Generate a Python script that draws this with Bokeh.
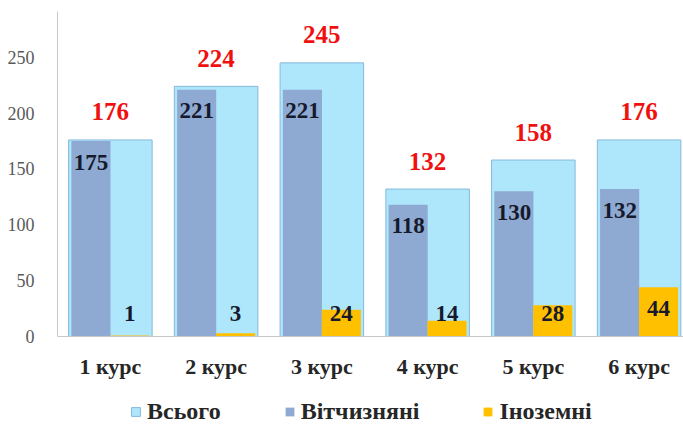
import numpy as np
from bokeh.plotting import figure
from bokeh.layouts import column
from bokeh.models import Range1d, FixedTicker, Legend, LegendItem, ColumnDataSource
from bokeh.core.properties import value
from bokeh.embed import file_html
from bokeh.resources import INLINE

courses = ["1 курс", "2 курс", "3 курс", "4 курс", "5 курс", "6 курс"]
total = [176, 224, 245, 132, 158, 176]
domestic = [175, 221, 221, 118, 130, 132]
foreign = [1, 3, 24, 14, 28, 44]
y_ticks = [0, 50, 100, 150, 200, 250]
series = ["Всього", "Вітчизняні", "Іноземні"]

FONT = "'Liberation Serif', 'DejaVu Serif', serif"
C_TOTAL, C_TOTAL_LINE, C_DOM, C_FOR = "#aee7fb", "#86b9dc", "#8eaad2", "#ffc000"
x = np.arange(len(courses))

src = ColumnDataSource(dict(
    x=x,
    xd=x - 0.184,
    xf=x + 0.184,
    total=total,
    domestic=domestic,
    foreign=foreign,
    ft=np.maximum(np.array(foreign), 39),
    total_lbl=[str(v) for v in total],
    dom_lbl=[str(v) for v in domestic],
    for_lbl=[str(v) for v in foreign],
))

p = figure(width=683, height=386, x_range=Range1d(-0.5, 5.42), y_range=Range1d(0, 291),
           output_backend="svg", toolbar_location=None,
           min_border_left=57, min_border_right=0, min_border_top=11, min_border_bottom=50)

p.vbar(x="x", top="total", width=0.79, source=src,
       fill_color=C_TOTAL, line_color=C_TOTAL_LINE, line_width=1)
p.vbar(x="xd", top="domestic", width=0.37, source=src, fill_color=C_DOM, line_color=None)
p.vbar(x="xf", top="foreign", width=0.37, source=src, fill_color=C_FOR, line_color=None)

p.text(x="x", y="total", text="total_lbl", source=src, text_align="center",
       text_baseline="middle", y_offset=-28, text_color="#f01010",
       text_font=value(FONT), text_font_style="bold", text_font_size="25px")
p.text(x="xd", y="domestic", text="dom_lbl", source=src, text_align="center",
       text_baseline="middle", y_offset=21, text_color="#161a2c",
       text_font=value(FONT), text_font_style="bold", text_font_size="23px")
p.text(x="xf", y="ft", text="for_lbl", source=src, text_align="center",
       text_baseline="middle", y_offset=21, text_color="#161a2c",
       text_font=value(FONT), text_font_style="bold", text_font_size="23px")

p.xgrid.grid_line_color = None
p.ygrid.grid_line_color = None
p.outline_line_color = None

p.xaxis.ticker = FixedTicker(ticks=list(x))
p.xaxis.major_label_overrides = {int(i): c for i, c in zip(x, courses)}
p.xaxis.major_label_text_font = FONT
p.xaxis.major_label_text_font_style = "bold"
p.xaxis.major_label_text_font_size = "22px"
p.xaxis.major_label_text_color = "#262626"
p.xaxis.major_label_standoff = 11
p.xaxis.axis_line_color = "#c8c8c8"
p.xaxis.major_tick_line_color = None
p.xaxis.minor_tick_line_color = None

p.yaxis.ticker = FixedTicker(ticks=y_ticks)
p.yaxis.major_label_text_font = FONT
p.yaxis.major_label_text_font_size = "18px"
p.yaxis.major_label_text_color = "#595959"
p.yaxis.major_label_standoff = 17
p.yaxis.axis_line_color = "#c8c8c8"
p.yaxis.major_tick_line_color = None
p.yaxis.minor_tick_line_color = None

# legend strip below the chart (its glyph renderers lie outside its view)
lg = figure(width=683, height=40, x_range=Range1d(1000, 1001), y_range=Range1d(1000, 1001),
            output_backend="svg", toolbar_location=None, min_border=0,
            x_axis_location=None, y_axis_location=None)
lg.xgrid.grid_line_color = None
lg.ygrid.grid_line_color = None
lg.outline_line_color = None
l1 = lg.vbar(x="x", top="total", width=0.79, source=src, fill_color=C_TOTAL, line_color=C_TOTAL_LINE)
l2 = lg.vbar(x="xd", top="domestic", width=0.37, source=src, fill_color=C_DOM, line_color=None)
l3 = lg.vbar(x="xf", top="foreign", width=0.37, source=src, fill_color=C_FOR, line_color=None)

legend = Legend(items=[LegendItem(label=s, renderers=[r]) for s, r in zip(series, [l1, l2, l3])],
                location=(73, 1), orientation="horizontal")
legend.label_text_font = FONT
legend.label_text_font_style = "bold"
legend.label_text_font_size = "24px"
legend.label_text_color = "#262626"
legend.glyph_width = 11
legend.glyph_height = 11
legend.label_height = 11
legend.label_standoff = 6
legend.spacing = 63
legend.padding = 0
legend.margin = 0
legend.border_line_color = None
legend.background_fill_alpha = 0
lg.add_layout(legend, "center")

open("out.html", "w").write(file_html(column(p, lg, spacing=0), INLINE))
